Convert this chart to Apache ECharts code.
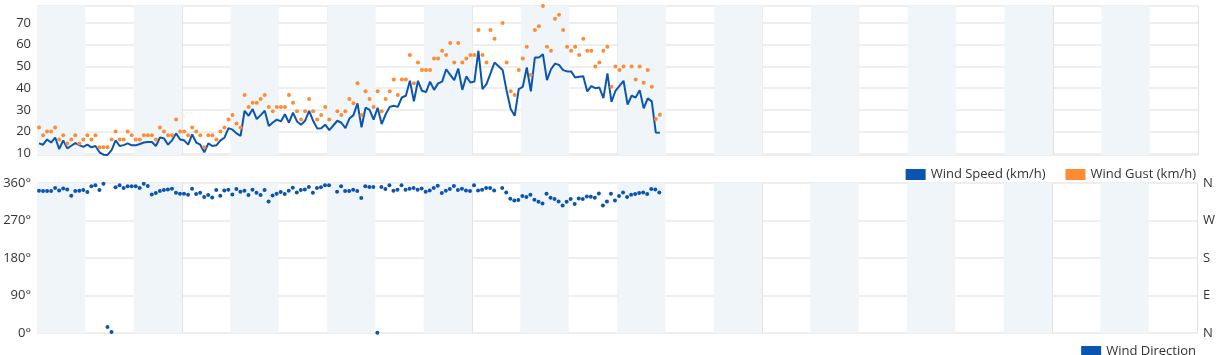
<!DOCTYPE html>
<html>
<head>
<meta charset="utf-8">
<script src="https://cdn.jsdelivr.net/npm/echarts@6/dist/echarts.min.js"></script>
<style>
html,body{margin:0;padding:0;background:#fff;}
#chart{width:1218px;height:355px;}
</style>
</head>
<body>
<div id="chart"></div>
<script>
// Hourly observations (km/h), one entry per hour from hour 0; null = missing observation
const windSpeed = [
14.6,14,16.4,15,17.3,12,16,12.3,13.5,14.7,13.8,13,14,12.8,13.4,10.5,9.4,9.3,11.5,16,
13.4,13.8,14.6,13.7,13.7,14.3,15,15.2,15.2,13.4,17.3,16.9,14,16,19.2,16.4,16,14,18.7,15,
14,10.5,14.6,13.4,13.7,16,17.2,21.6,20.9,19.2,18.1,29.6,27.3,30.4,25.8,27.6,29.6,22.6,24.2,25.5,
24.7,28,24.1,28.7,24.7,23.2,25,29.6,25,21.5,21.6,23.2,20.7,null,25,24.1,21.6,26,27.6,33,
22,31,30,25.5,31,23.5,28,31.4,31.9,31.4,35.7,36.5,43.4,33.9,43.4,38.8,38.2,43,39.2,42.2,
43,48.7,46.1,43.7,49,39.2,45.4,42.6,43,57.2,39.6,41.9,46.8,51.8,null,48.4,38.8,30.4,27.3,39.6,
40.6,49.5,38.5,54.1,54.1,55.6,43.7,48.7,51.3,50.7,48.3,47.7,47.7,44.9,45.2,45.5,38.5,40.9,40,40.3,
35.4,46.8,33.7,38.8,41.1,43.4,32.4,36.5,35.7,39.1,30.7,35.3,33.9,19.6,19.5
];
const windGust = [
21.9,18.3,20.1,20.1,21.9,16.4,18.3,14.6,16.4,18.3,14.6,16.4,18.3,16.4,18.3,12.8,12.8,12.8,16.4,20.1,
16.4,16.4,20.1,18.3,16.4,16.4,18.3,18.3,18.3,16.4,21.9,20.1,18.3,18.3,25.6,20.1,20.1,18.3,21.9,20.1,
18.3,12.8,18.3,18.3,16.4,20.1,21.9,25.6,27.6,23.8,21.9,36.8,31.3,33.3,33.3,35,36.8,31.3,29.4,31.3,
31.3,31.3,36.8,33.3,29.4,25.6,29.4,35,29.4,25.6,27.6,31.3,25.6,null,29.4,27.6,29.4,35,33.1,42.3,
27.6,38.6,35,31.3,38.6,29.4,35,38.6,44,36.8,44,44,55.3,42.3,51.8,48.3,48.3,48.3,53.6,53.6,
57.2,55.3,60.8,51.8,60.8,51.8,53.6,55.3,55.3,66.7,55.3,51.8,66.7,62.7,null,70,51.8,38.6,36.8,48.3,
53.6,59,46.1,66.7,68.5,77.8,59,57.2,71.9,73.7,66.7,59,57.2,59,55.3,62.7,57.2,57.2,50,51.8,
57.2,59,40.6,50,48.3,50,null,50,44,50,42.5,48.3,40.6,25.8,27.8
];
const windDir = [
341.5,340.7,340.7,340.7,348,342.3,347,344.7,329.5,340.7,341.5,343,338.3,352,354.4,343,358.4,14.5,2.4,349.6,
354.4,348,352,352,352,348,358.4,352.8,332.7,335.9,340.7,343,344.7,346.3,336.7,334.3,334.3,331.9,346.3,333.5,
336.7,326.3,331.1,325.5,343,329.5,342.3,344,332.7,345.5,339.1,341.5,331.1,344,336.7,331.1,343,315.8,330.3,334.3,
338.3,333.5,341.5,348.8,337.5,343,344.7,350.4,336.7,348,349.6,354.4,354.4,null,339.1,352,340.7,340.7,344,340.7,
323.9,352,350.4,350.4,0.8,350.4,345.5,354.4,341.5,344,354.4,344,346.3,348,344,347,339,342.3,348,353.6,
335.9,341.5,345.5,352.8,343,346.3,342.3,340.7,354.4,342.3,344,348,348,342.3,null,348,337.5,322.2,318.2,319,
328.7,326.3,331.9,319.8,315,311,334.3,324.7,321.4,315.8,306.2,315,321.4,309.4,323,321.4,327.9,327,324.7,335.1,
306.2,315.8,334.3,318.2,328.7,337.5,326.3,331.9,333.5,335.9,337.5,333.5,345.5,344.7,337.5
];
// Night periods: [startHour, endHour] over the 12-day span
const nights = [[0,12],[24,36],[48,60],[72,84],[96,108],[120,132],[144,156],[168,180],[192,204],[216,228],[240,252],[264,276]];
const compassLabels = {0:'N',90:'E',180:'S',270:'W',360:'N'};
const seriesNames = ['Wind Speed (km/h)','Wind Gust (km/h)','Wind Direction'];

// observation time (hours since start) for each entry: half past each hour
const obsHour = windSpeed.map((_, i) => i + 0.5);
const pairs = arr => arr.map((v, i) => [obsHour[i], v]);

const BLUE = '#0a55b0', ORANGE = '#ff8c33', BAND = '#f0f5fa';
const FONT = 'Open Sans';
const bandArea = {
  silent: true,
  itemStyle: {color: BAND},
  data: nights.map(n => [{xAxis: n[0]}, {xAxis: n[1]}])
};
const xBase = {
  type: 'value', min: 0, max: 288, interval: 36,
  axisLabel: {show: false}, axisTick: {show: false}, axisLine: {show: false},
  splitLine: {show: true, lineStyle: {color: '#e2e2e2', width: 1}}
};
const legendText = {fontFamily: FONT, fontSize: 13, color: '#333'};
const chart = echarts.init(document.getElementById('chart'), null, {renderer: 'canvas'});
chart.setOption({
  animation: false,
  textStyle: {fontFamily: FONT},
  grid: [
    {left: 37, right: 20, top: 6, height: 149},
    {left: 37, right: 20, top: 183, height: 150}
  ],
  legend: [
    {data: [seriesNames[0], seriesNames[1]], right: 17, top: 163, icon: 'rect', itemWidth: 20, itemHeight: 11, itemGap: 20,
     textStyle: legendText},
    {data: [seriesNames[2]], right: 17, top: 340, icon: 'rect', itemWidth: 20, itemHeight: 11,
     textStyle: legendText}
  ],
  xAxis: [Object.assign({gridIndex: 0}, xBase), Object.assign({gridIndex: 1}, xBase)],
  yAxis: [
    {gridIndex: 0, type: 'value', min: 9.26, max: 77.78,
     axisLine: {show: false}, axisTick: {show: false},
     axisLabel: {showMinLabel: false, showMaxLabel: false, color: '#333', fontSize: 13, fontFamily: FONT, margin: 6},
     splitLine: {lineStyle: {color: '#eeeeee', width: 2}}},
    {gridIndex: 1, type: 'value', min: 0, max: 360, interval: 90,
     axisLine: {show: false}, axisTick: {show: false},
     axisLabel: {formatter: '{value}°', color: '#333', fontSize: 13, fontFamily: FONT, margin: 6},
     splitLine: {lineStyle: {color: '#eeeeee', width: 2}}},
    {gridIndex: 1, type: 'value', min: 0, max: 360, interval: 90, position: 'right',
     axisLine: {show: false}, axisTick: {show: false},
     axisLabel: {formatter: v => compassLabels[v], color: '#333', fontSize: 13, fontFamily: FONT, margin: 6},
     splitLine: {show: false}}
  ],
  series: [
    {name: seriesNames[0], type: 'line', xAxisIndex: 0, yAxisIndex: 0, data: pairs(windSpeed),
     showSymbol: false, connectNulls: true, color: BLUE, lineStyle: {width: 2, color: BLUE}, z: 3,
     markArea: bandArea},
    {name: seriesNames[1], type: 'scatter', xAxisIndex: 0, yAxisIndex: 0, data: pairs(windGust),
     symbolSize: 4, color: ORANGE, itemStyle: {color: ORANGE, opacity: 1}, z: 4},
    {name: seriesNames[2], type: 'scatter', xAxisIndex: 1, yAxisIndex: 1, data: pairs(windDir),
     symbolSize: 4, color: BLUE, itemStyle: {color: BLUE, opacity: 1}, z: 4,
     markArea: bandArea}
  ]
});
</script>
</body>
</html>
